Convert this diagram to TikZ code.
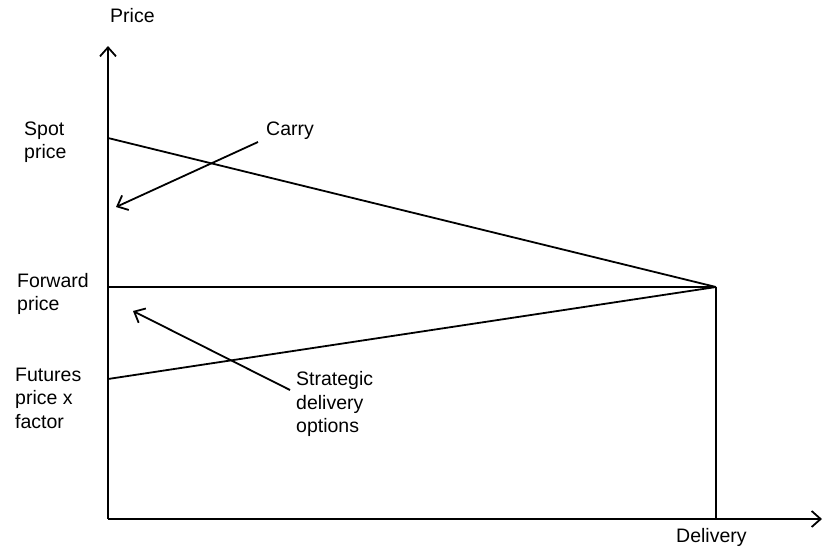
\documentclass[tikz,border=0pt]{standalone}
\usepackage{fontspec}
\setmainfont{Liberation Sans}
\usetikzlibrary{arrows.meta}
\tikzset{
	lbl/.style={anchor=west, inner sep=0pt, align=left, font=\fontsize{19.5}{23.5}\selectfont},
	ax/.style={line width=1.8pt, -{Straight Barb[length=9pt, width=16pt, line width=1.8pt]}},
	ln/.style={line width=1.8pt},
}
\begin{document}
\begin{tikzpicture}[x=1pt, y=-1pt]
\useasboundingbox (0,0) rectangle (825,550);
	%% Koordinatensystem
	\coordinate (O) at (108,519);
	\coordinate (ytip) at (108,46);
	\coordinate (xtip) at (822,519);
	\draw[ax] (O) -- (ytip);
	\draw[ax] (O) -- (xtip);
	\node[lbl] (price) at (110,16) {Price};
	\node[lbl] (delivery) at (676,537) {Delivery};
	%%%%%%%%%%%%%%%%

	%% Preise
	\coordinate (spot) at (108,138);
	\coordinate (fwd) at (108,287);
	\coordinate (fut) at (108,379);
	\coordinate (D) at (716,287);
	\coordinate (Dx) at (716,519);
	\draw[ln] (spot) -- (D);
	\draw[ln] (fwd) -- (D);
	\draw[ln] (fut) -- (D);
	\draw[ln] (D) -- (Dx);
	\node[lbl] (spotlbl) at (24,142) {Spot\\price};
	\node[lbl] (fwdlbl) at (17,294) {Forward\\price};
	\node[lbl] (futlbl) at (15,398) {Futures\\price x\\factor};

	%% Pfeile
	\node[lbl] (carry) at (266,131) {Carry};
	\node[lbl] (strat) at (296,404) {Strategic\\delivery\\options};
	\coordinate (carryend) at (258,142);
	\coordinate (carrytip) at (116,207);
	\coordinate (stratend) at (290,390);
	\coordinate (strattip) at (133,311);
	\draw[ax] (carryend) -- (carrytip);
	\draw[ax] (stratend) -- (strattip);
\end{tikzpicture}
\end{document}
